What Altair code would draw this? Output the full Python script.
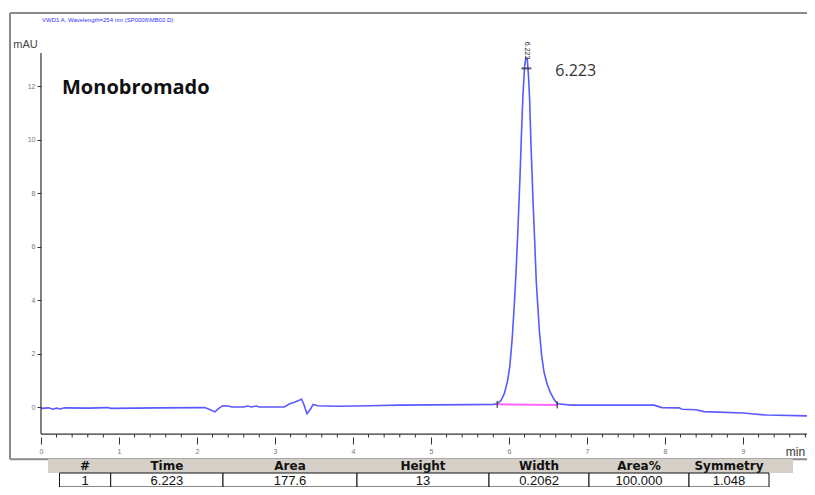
import altair as alt
import pandas as pd

# ---- chromatogram trace (time in min, signal in mAU) ----
trace_time = [0.0, 0.1, 0.15, 0.2, 0.25, 0.3, 0.6, 0.85, 0.9, 1.5, 2.1, 2.17, 2.23,
              2.28, 2.33, 2.4, 2.45, 2.6, 2.65, 2.7, 2.76, 2.8, 3.12, 3.19, 3.25,
              3.31, 3.34, 3.37, 3.41, 3.45, 3.49, 3.55, 3.8, 4.2, 4.6, 5.0, 5.5,
              5.8, 5.85, 5.90, 5.94, 5.98, 6.01, 6.04, 6.07, 6.09, 6.11, 6.14,
              6.16, 6.18, 6.20, 6.215, 6.235, 6.25, 6.265, 6.28, 6.31, 6.33, 6.35,
              6.39, 6.42, 6.45, 6.49, 6.53, 6.58, 6.62, 6.8, 7.0, 7.5, 7.86, 7.96,
              8.18, 8.22, 8.4, 8.5, 9.0, 9.1, 9.3, 9.82]
trace_mau = [-0.05, -0.03, -0.08, -0.04, -0.07, -0.03, -0.04, -0.02, -0.05, -0.03,
             -0.02, -0.1, -0.18, -0.05, 0.05, 0.04, 0.0, 0.0, 0.04, 0.0, 0.04, 0.0,
             0.0, 0.12, 0.18, 0.25, 0.3, 0.1, -0.25, -0.1, 0.1, 0.05, 0.03, 0.05,
             0.07, 0.08, 0.09, 0.1, 0.12, 0.25, 0.5, 0.95, 1.5, 2.5, 3.9, 5.0,
             6.3, 8.5, 10.2, 11.7, 12.7, 13.05, 13.0, 12.4, 11.5, 10.0, 7.6, 6.2,
             4.7, 2.85, 1.9, 1.3, 0.85, 0.55, 0.28, 0.12, 0.07, 0.07, 0.07, 0.07,
             -0.02, -0.03, -0.08, -0.1, -0.17, -0.22, -0.25, -0.3, -0.33]

# integration baseline of the peak
base_time = [5.85, 6.62]
base_mau = [0.1, 0.08]

# peak result
peak_time = 6.223
peak_height = 13.0
peak_label = "6.223"

# axis ticks
x_major = [0, 1, 2, 3, 4, 5, 6, 7, 8, 9]
x_minor = [i / 5 for i in range(0, 50) if i % 5 != 0]
y_major = [0, 2, 4, 6, 8, 10, 12]

# results table
table_cols = ["#", "Time", "Area", "Height", "Width", "Area%", "Symmetry"]
table_vals = ["1", "6.223", "177.6", "13", "0.2062", "100.000", "1.048"]
col_edges = [49.5, 100.7, 213, 347, 479, 579, 679, 759]   # table layout (px)

sample_name = "Monobromado"
signal_header = "VWD1 A, Wavelength=254 nm (SP0006\\MB02.D)"

# ---------------------------------------------------------------------------
W, H = 797, 474                 # plot area (frame + table)
XMIN, XMAX = -0.397, 9.821
YMIN, YMAX = -2.99, 14.735
AX_Y = -1.01                    # where the time axis sits
AX_TOP = 13.24
FRAME_BOTTOM = -1.95

xs = alt.Scale(domain=[XMIN, XMAX], nice=False, zero=False)
ys = alt.Scale(domain=[YMIN, YMAX], nice=False, zero=False)

trace_df = pd.DataFrame({"t": trace_time, "v": trace_mau})
base_df = pd.DataFrame({"t": base_time, "v": base_mau})


def X(field="t"):
    return alt.X(f"{field}:Q", scale=xs, axis=None)


def Y(field="v"):
    return alt.Y(f"{field}:Q", scale=ys, axis=None)


x_axis = alt.Axis(values=x_major, offset=-50, domain=False, grid=False,
                  tickSize=7, tickColor="#333", tickWidth=1,
                  labelFontSize=7, labelFont="Liberation Sans",
                  labelColor="#777", labelPadding=3,
                  title="min", titleX=785, titleY=14, titleAlign="center",
                  titleBaseline="middle", titleFontSize=12,
                  titleFontWeight="normal", titleColor="#333",
                  titleFont="Liberation Sans")
y_axis = alt.Axis(values=y_major, offset=-31, domain=False, grid=False,
                  tickSize=4, tickColor="#333", tickWidth=1,
                  labelFontSize=7, labelFont="Liberation Sans",
                  labelColor="#777", labelPadding=2,
                  title="mAU", titleAngle=0, titleX=-16, titleY=31,
                  titleAlign="center", titleBaseline="middle",
                  titleFontSize=11, titleFontWeight="normal",
                  titleColor="#444", titleFont="Liberation Sans")

line = alt.Chart(trace_df).mark_line(color="#5a5aff", strokeWidth=1.6).encode(
    x=alt.X("t:Q", scale=xs, axis=x_axis),
    y=alt.Y("v:Q", scale=ys, axis=y_axis),
)

baseline = alt.Chart(base_df).mark_line(color="#ff66ff", strokeWidth=2).encode(
    x=X(), y=Y())

base_ticks = alt.Chart(pd.DataFrame({"t": base_time, "v": base_mau,
                                     "off": [-3, 3]})).mark_tick(
    color="#222", orient="vertical", size=7, thickness=1.5).encode(
    x=X(), y=Y(), yOffset=alt.YOffset("off:Q", scale=None))

axis_lines = alt.Chart(pd.DataFrame({
    "t": [0, 0], "t2": [XMAX, 0], "v": [AX_Y, AX_Y], "v2": [AX_Y, AX_TOP]
})).mark_rule(color="#333", strokeWidth=1.2).encode(
    x=X(), x2="t2:Q", y=Y(), y2="v2:Q")

frame = alt.Chart(pd.DataFrame({
    "t": [XMIN, XMIN, XMIN], "t2": [XMAX, XMIN, XMAX],
    "v": [YMAX, FRAME_BOTTOM, FRAME_BOTTOM], "v2": [YMAX, YMAX, FRAME_BOTTOM]
})).mark_rule(color="#8a8a8a", strokeWidth=2).encode(
    x=X(), x2="t2:Q", y=Y(), y2="v2:Q")

minor_df = pd.DataFrame({"t": x_minor, "v": [AX_Y] * len(x_minor),
                         "v2": [AX_Y - 0.13] * len(x_minor)})
minor = alt.Chart(minor_df).mark_rule(color="#333", strokeWidth=1).encode(
    x=X(), y=Y(), y2="v2:Q")

peak_df = pd.DataFrame({"t": [peak_time], "v": [peak_height], "lab": [peak_label]})
peak_text = alt.Chart(peak_df).mark_text(
    align="left", baseline="middle", dx=29, dy=12, fontSize=16,
    font="Open Sans", color="#333").encode(x=X(), y=Y(), text="lab:N")
apex_text = alt.Chart(peak_df).mark_text(
    angle=90, align="right", baseline="middle", dy=-1, fontSize=7,
    font="Liberation Sans", color="#222").encode(x=X(), y=Y(), text="lab:N")
apex_mark = alt.Chart(peak_df).mark_tick(
    color="#222", orient="horizontal", size=10, thickness=2, yOffset=9).encode(
    x=X(), y=Y())

name_text = alt.Chart(pd.DataFrame({"s": [sample_name]})).mark_text(
    align="left", baseline="middle", fontSize=20, fontWeight="bold",
    font="Open Sans", color="#111").encode(
    x=alt.value(52), y=alt.value(75), text="s:N")
header_text = alt.Chart(pd.DataFrame({"s": [signal_header]})).mark_text(
    align="left", baseline="middle", fontSize=6,
    font="Liberation Sans", color="#3333ff").encode(
    x=alt.value(32), y=alt.value(7), text="s:N")

# ---- results table (own pixel-like scales) ----
tdf = pd.DataFrame({
    "col": table_cols, "val": table_vals,
    "left": col_edges[:-1], "right": col_edges[1:],
})
tdf["mid"] = (tdf["left"] + tdf["right"]) / 2
tdf["top"] = 460
tdf["bot"] = 474
tdf["hy"] = 453
tdf["vy"] = 467.5
txs = alt.Scale(domain=[0, W], nice=False, zero=False)
tys = alt.Scale(domain=[0, H], nice=False, zero=False, reverse=True)

head_band = alt.Chart(pd.DataFrame({"a": [38], "b": [783], "y": [446], "y2": [460]})
                      ).mark_rect(fill="#d4d0c8").encode(
    x=alt.X("a:Q", scale=txs, axis=None), x2="b:Q",
    y=alt.Y("y:Q", scale=tys, axis=None), y2="y2:Q")
cells = alt.Chart(tdf).mark_rect(fill="white", stroke="#111", strokeWidth=1).encode(
    x=alt.X("left:Q", scale=txs, axis=None), x2="right:Q",
    y=alt.Y("top:Q", scale=tys, axis=None), y2="bot:Q")
head_txt = alt.Chart(tdf).mark_text(
    fontSize=12, fontWeight="bold", font="DejaVu Sans", color="#111",
    baseline="middle").encode(
    x=alt.X("mid:Q", scale=txs, axis=None),
    y=alt.Y("hy:Q", scale=tys, axis=None), text="col:N")
val_txt = alt.Chart(tdf).mark_text(
    fontSize=13, font="Liberation Sans", color="#111", baseline="middle").encode(
    x=alt.X("mid:Q", scale=txs, axis=None),
    y=alt.Y("vy:Q", scale=tys, axis=None), text="val:N")

chart = alt.layer(
    frame, line, baseline, base_ticks, axis_lines, minor, apex_mark,
    peak_text, apex_text, name_text, header_text,
    head_band, cells, head_txt, val_txt
).resolve_scale(x="independent", y="independent").properties(
    width=W, height=H,
    autosize=alt.AutoSizeParams(type="none"),
    padding={"left": 2, "top": 5, "right": 0, "bottom": 0},
).configure(background="white").configure_view(strokeWidth=0)

chart.save("out.html", embed_options={"renderer": "svg", "actions": False})
